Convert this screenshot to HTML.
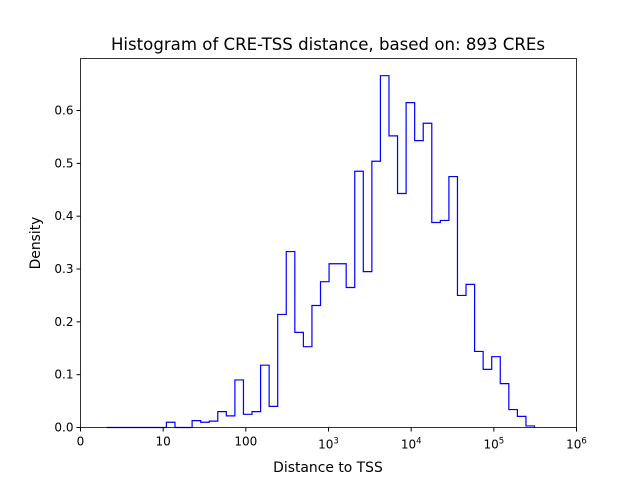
<!DOCTYPE html>
<html><head><meta charset="utf-8"><style>
body{margin:0;background:#fff;}
svg{display:block;font-family:"DejaVu Sans","Liberation Sans",sans-serif;}
</style></head><body>
<svg id="chart" width="640" height="480">
<rect x="0" y="0" width="640" height="480" fill="#fff"/>
<text x="328" y="50" font-size="16.6" text-anchor="middle">Histogram of CRE-TSS distance, based on: 893 CREs</text>
<g id="plot"></g>
<rect x="80.5" y="58.5" width="496" height="369" fill="none" stroke="#000" stroke-width="0.8"/>
<text x="328" y="472" font-size="13.9" text-anchor="middle">Distance to TSS</text>
<text transform="translate(40,243) rotate(-90)" font-size="13.9" text-anchor="middle">Density</text>
</svg>
<script>
const binLo = 0.3145;
const binHi = 5.492;
const densities = [0,0,0,0,0,0,0,0.01,0,0,0.013,0.01,0.012,0.03,0.022,0.09,0.025,0.03,0.118,0.04,
0.214,0.333,0.18,0.153,0.231,0.276,0.31,0.31,0.265,0.485,0.295,0.504,0.666,0.552,0.443,0.615,0.543,0.576,0.388,0.392,
0.475,0.25,0.271,0.144,0.11,0.134,0.083,0.034,0.021,0.003];
const xTickVals = [0,1,2,3,4,5,6];
const xTickLabels = ["0","10","100","10|3","10|4","10|5","10|6"];
const yTickVals = [0,0.1,0.2,0.3,0.4,0.5,0.6];
const yTickLabels = ["0.0","0.1","0.2","0.3","0.4","0.5","0.6"];
const X0=80.5,X1=576.5,Y0=427.5,Y1=58.5;
function xs(v){return X0+(v-0)/(6-0)*(X1-X0);}
function ys(v){return Y0-v/0.6985*(Y0-Y1);}
const NS="http://www.w3.org/2000/svg";
const g=document.getElementById('plot');
const n=densities.length, w=(binHi-binLo)/n;
let d="M"+xs(binLo)+","+ys(0);
for(let i=0;i<n;i++){
  d+=" L"+xs(binLo+i*w)+","+ys(densities[i])+" L"+xs(binLo+(i+1)*w)+","+ys(densities[i]);
}
d+=" L"+xs(binHi)+","+ys(0);
const p=document.createElementNS(NS,'path');
p.setAttribute('d',d);p.setAttribute('fill','none');p.setAttribute('stroke','#0000ff');p.setAttribute('stroke-width','1.2');


g.appendChild(p);
xTickVals.forEach((v,i)=>{
  const x=xs(v);
  const l=document.createElementNS(NS,'line');
  l.setAttribute('x1',x);l.setAttribute('x2',x);l.setAttribute('y1',Y0);l.setAttribute('y2',Y0+4);l.setAttribute('stroke','#000');
  
  
  g.appendChild(l);
  const t=document.createElementNS(NS,'text');
  t.setAttribute('x',x);t.setAttribute('y',Y0+18);t.setAttribute('font-size','12');t.setAttribute('text-anchor','middle');
  const parts=xTickLabels[i].split('|');
  t.textContent=parts[0];
  if(parts[1]){const s=document.createElementNS(NS,'tspan');s.setAttribute('dy','-5');s.setAttribute('font-size','8.5');s.textContent=parts[1];t.appendChild(s);t.setAttribute('y',Y0+21);}
  
  
  g.appendChild(t);
});
yTickVals.forEach((v,i)=>{
  const y=ys(v);
  const l=document.createElementNS(NS,'line');
  l.setAttribute('x1',X0-4);l.setAttribute('x2',X0);l.setAttribute('y1',y);l.setAttribute('y2',y);l.setAttribute('stroke','#000');
  
  
  g.appendChild(l);
  const t=document.createElementNS(NS,'text');
  t.setAttribute('x',X0-7);t.setAttribute('y',y+4);t.setAttribute('font-size','12');t.setAttribute('text-anchor','end');
  t.textContent=yTickLabels[i];
  
  
  g.appendChild(t);
});
</script>
</body></html>
